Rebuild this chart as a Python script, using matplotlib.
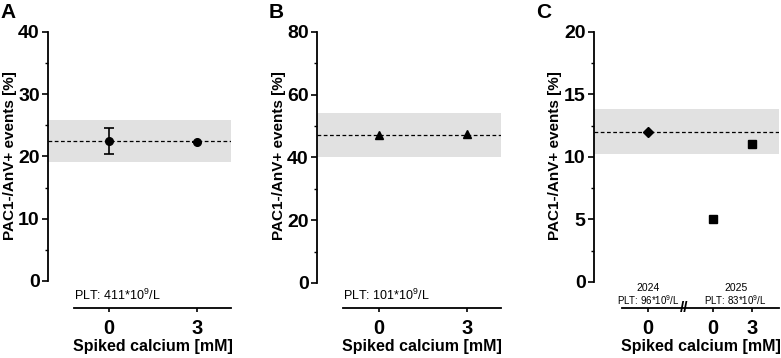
import matplotlib
matplotlib.use("Agg")
import matplotlib.pyplot as plt
from matplotlib.ticker import MultipleLocator

plt.rcParams['font.family'] = ['Liberation Sans', 'DejaVu Sans']
plt.rcParams['mathtext.fontset'] = 'custom'
plt.rcParams['mathtext.rm'] = 'Liberation Sans'
plt.rcParams['mathtext.it'] = 'Liberation Sans:italic'
plt.rcParams['mathtext.bf'] = 'Liberation Sans:bold'

# ---- data ----
a_x = [0, 3]
a_y = [22.5, 22.4]
a_err_lo = [2.1, 0.0]
a_err_hi = [2.0, 0.0]
a_ref_mean = 22.5
a_ref_band = (19.1, 25.8)

b_x = [0, 3]
b_y = [47.0, 47.5]
b_ref_mean = 47.2
b_ref_band = (40.0, 54.2)

c_x_2024 = [0]
c_y_2024 = [12.0]
c_x_2025 = [5, 8]
c_y_2025 = [5.0, 11.0]
c_ref_mean = 12.0
c_ref_band = (10.2, 13.8)

a_ticks = [0, 3]
a_ticklabels = ['0', '3']
c_ticks = [0, 5, 8]
c_ticklabels = ['0', '0', '3']

ylabel = 'PAC1-/AnV+ events [%]'
xlabel = 'Spiked calcium [mM]'

W, H = 781, 358
fig = plt.figure(figsize=(W / 100, H / 100), dpi=100)
TOP, BOT = 32, 308


def add_ax(left, right, top=TOP, bottom=BOT):
    return fig.add_axes([left / W, (H - bottom) / H, (right - left) / W, (bottom - top) / H])


def style(ax, left_px, right_px, ymax, ystep, ymin, xlim, xbounds, ticks, ticklabels, ylab_x_px):
    ax.set_xlim(*xlim)
    ax.set_ylim(ymin, ymax)
    for s in ['top', 'right']:
        ax.spines[s].set_visible(False)
    ax.spines['left'].set_bounds(0, ymax)
    ax.spines['bottom'].set_bounds(*xbounds)
    for s in ['left', 'bottom']:
        ax.spines[s].set_linewidth(1.3)
    ax.yaxis.set_minor_locator(MultipleLocator(ystep / 2))
    ax.set_yticks([v for v in range(0, int(ymax) + 1, int(ystep))])
    ax.set_xticks(ticks)
    ax.set_xticklabels(ticklabels)
    ax.tick_params(axis='y', which='major', length=4, width=1.2, pad=2, labelsize=14)
    ax.tick_params(axis='y', which='minor', length=2.5, width=1.0)
    ax.tick_params(axis='x', which='major', length=3, width=1.2, pad=5, labelsize=14.5)
    for lab in ax.get_xticklabels() + ax.get_yticklabels():
        lab.set_fontweight('bold')
    ax.set_ylabel(ylabel, fontsize=11, fontweight='bold', va='center')
    wpx = right_px - left_px
    ax.yaxis.set_label_coords((ylab_x_px - left_px) / wpx, (BOT - 156) / (BOT - TOP))
    ax.set_xlabel(xlabel, fontsize=11.5, fontweight='bold', va='center')
    xc = (xbounds[0] + xbounds[1]) / 2
    xa = (xc - xlim[0]) / (xlim[1] - xlim[0])
    ax.xaxis.set_label_coords(xa, (BOT - 347) / (BOT - TOP))
    ax.set_facecolor('none')


band_color = '#e1e1e1'

# ---- Panel A ----
axA = add_ax(48, 231)
xlimA = (-2.08, 4.16)
axA.axhspan(*a_ref_band, color=band_color, lw=0, zorder=0)
axA.axhline(a_ref_mean, color='black', ls=(0, (3, 2)), lw=0.9, zorder=1)
axA.errorbar(a_x, a_y, yerr=[a_err_lo, a_err_hi], fmt='o', color='black', ms=5.5,
             capsize=3.5, elinewidth=1.2, capthick=1.2, zorder=3)
style(axA, 48, 231, 40, 10, -4.34, xlimA, (-1.19, 4.16), a_ticks, a_ticklabels, 10)
axA.text(-1.19, -2.25, r'PLT: 411*10$^9$/L', fontsize=9, ha='left', va='center')
fig.text(0 / W, 1 - 13 / H, 'A', fontsize=15, fontweight='bold', ha='left', va='center')

# ---- Panel B ----
axB = add_ax(317, 501)
xlimB = (-2.11, 4.16)
axB.axhspan(*b_ref_band, color=band_color, lw=0, zorder=0)
axB.axhline(b_ref_mean, color='black', ls=(0, (3, 2)), lw=0.9, zorder=1)
axB.plot(b_x, b_y, '^', color='black', ms=5.5, zorder=3)
style(axB, 317, 501, 80, 20, -8.0, xlimB, (-1.23, 4.16), a_ticks, a_ticklabels, 279)
axB.text(-1.23, -4.0, r'PLT: 101*10$^9$/L', fontsize=9, ha='left', va='center')
fig.text(269 / W, 1 - 13 / H, 'B', fontsize=15, fontweight='bold', ha='left', va='center')

# ---- Panel C ----
axC = add_ax(594, 779)
xlimC = (-4.15, 10.08)
axC.axhspan(*c_ref_band, color=band_color, lw=0, zorder=0)
axC.axhline(c_ref_mean, color='black', ls=(0, (3, 2)), lw=0.9, zorder=1)
axC.plot(c_x_2024, c_y_2024, 'D', color='black', ms=4.8, zorder=3)
axC.plot(c_x_2025, c_y_2025, 's', color='black', ms=5.5, zorder=3, clip_on=False)
style(axC, 594, 779, 20, 5, -2.1, xlimC, (-2.0, 10.08), c_ticks, c_ticklabels, 555)
axC.text(0.0, -0.5, '2024', fontsize=7.5, ha='center', va='center')
axC.text(0.0, -1.5, r'PLT: 96*10$^9$/L', fontsize=7, ha='center', va='center')
axC.text(6.75, -0.5, '2025', fontsize=7.5, ha='center', va='center')
axC.text(6.75, -1.5, r'PLT: 83*10$^9$/L', fontsize=7, ha='center', va='center')
axC.text(2.75, -2.1, '//', fontsize=11, fontweight='bold', ha='center', va='center',
         clip_on=False)
fig.text(536 / W, 1 - 13 / H, 'C', fontsize=15, fontweight='bold', ha='left', va='center')

fig.savefig('out.png', dpi=100)
